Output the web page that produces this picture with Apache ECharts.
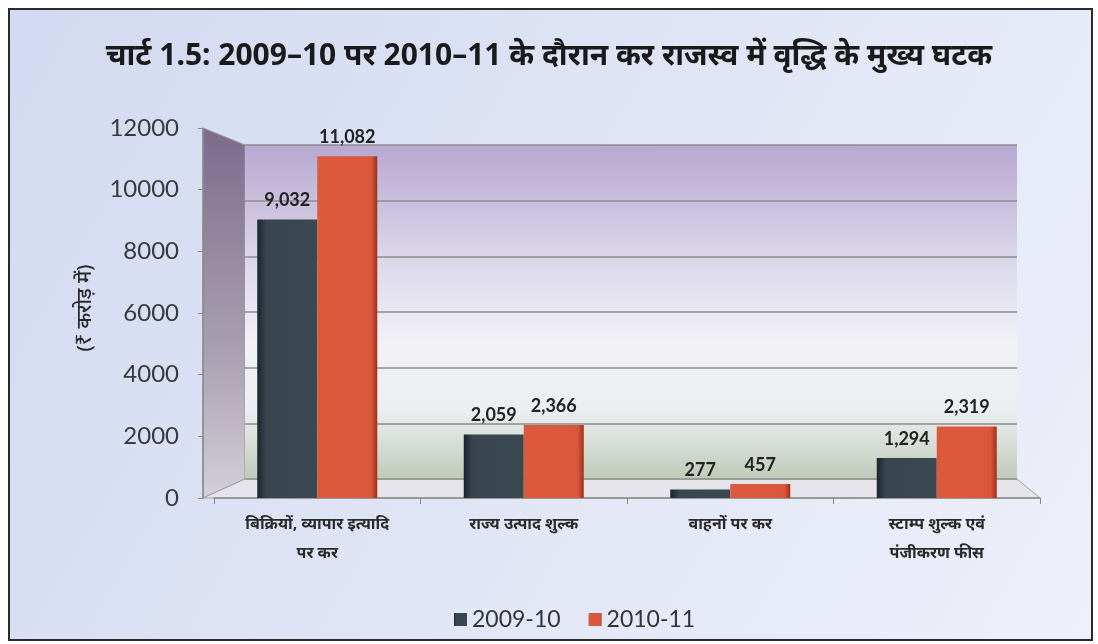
<!DOCTYPE html>
<html><head><meta charset="utf-8">
<script src="https://cdn.jsdelivr.net/npm/echarts@6/dist/echarts.min.js"></script>
<style>html,body{margin:0;padding:0;background:#fff}#c{width:1098px;height:644px}</style>
</head><body><div id="c"></div>
<script>
const titleText = 'चार्ट 1.5: 2009–10 पर 2010–11 के दौरान कर राजस्व में वृद्धि के मुख्य घटक';
const yAxisName = '(₹ करोड़ में)';
const categories = ['बिक्रियों, व्यापार इत्यादि\nपर कर', 'राज्य उत्पाद शुल्क', 'वाहनों पर कर', 'स्टाम्प शुल्क एवं\nपंजीकरण फीस'];
const seriesNames = ['2009-10', '2010-11'];
const values2009 = [9032, 2059, 277, 1294];
const values2010 = [11082, 2366, 457, 2319];
const yTicks = [0, 2000, 4000, 6000, 8000, 10000, 12000];

const font = '"Noto Sans", "DejaVu Sans", sans-serif';
const numFont = 'Lato, "Open Sans", sans-serif';
const chart = echarts.init(document.getElementById('c'), null, {renderer: 'canvas'});
const fmt = v => v.value.toLocaleString('en-US');

chart.setOption({
  backgroundColor: '#ffffff',
  animation: false,
  graphic: [
    {type: 'rect', z: -10, shape: {x: 9, y: 9, width: 1083, height: 631},
     style: {stroke: '#2a2a2a', lineWidth: 2,
       fill: {type: 'linear', x: 0, y: 0, x2: 1, y2: 1, colorStops: [{offset: 0, color: '#d2daf1'}, {offset: 1, color: '#eef0fa'}]}}},
    {type: 'polygon', z: -5, shape: {points: [[203, 128], [245, 145], [245, 479], [203, 498]]},
     style: {fill: {type: 'linear', x: 0, y: 0, x2: 0, y2: 1, colorStops: [{offset: 0, color: '#7d6a8c'}, {offset: 0.6, color: '#a99fb1'}, {offset: 1, color: '#d4d0d6'}]}, stroke: '#9a94a0', lineWidth: 1}},
    {type: 'polygon', z: -5, shape: {points: [[203, 498], [245, 479], [1017, 479], [1040, 498]]},
     style: {fill: '#e4e4ea', stroke: '#a0a0a8', lineWidth: 1}}
  ],
  title: {
    text: titleText, left: 'center', top: 36,
    textStyle: {fontFamily: font, fontSize: 30, fontWeight: 'bold', color: '#1a1a1a'}
  },
  legend: {
    data: seriesNames, bottom: 8, left: 449, itemWidth: 13, itemHeight: 13, itemGap: 28,
    icon: 'rect',
    textStyle: {fontFamily: numFont, fontSize: 23, color: '#333'}
  },
  grid: [
    {left: 245, right: 81, top: 145, bottom: 165, show: true, borderWidth: 0, z: -4,
     backgroundColor: {type: 'linear', x: 0, y: 0, x2: 0, y2: 1, colorStops: [
       {offset: 0, color: '#b7a8d0'}, {offset: 0.35, color: '#dcd8ec'}, {offset: 0.6, color: '#f2f2f6'},
       {offset: 0.8, color: '#ebeef0'}, {offset: 1, color: '#bfcab8'}]}},
    {left: 214, right: 58, top: 128, bottom: 146}
  ],
  xAxis: [
    {gridIndex: 0, type: 'category', data: categories, show: false},
    {gridIndex: 1, type: 'category', data: categories,
     axisLine: {lineStyle: {color: '#8a8a8a', width: 1.5}},
     axisTick: {show: true, length: 6, lineStyle: {color: '#8a8a8a'}},
     axisLabel: {fontFamily: font, fontSize: 16, fontWeight: 'bold', color: '#2a2a2a', margin: 12, lineHeight: 29}}
  ],
  yAxis: [
    {gridIndex: 0, type: 'value', min: 0, max: 12000, interval: 2000,
     axisLabel: {show: false}, axisLine: {show: false}, axisTick: {show: false},
     splitLine: {lineStyle: {color: '#8c8c8c', width: 1.5}}},
    {gridIndex: 1, type: 'value', min: yTicks[0], max: yTicks[yTicks.length - 1], interval: 2000,
     offset: 11,
     name: yAxisName, nameLocation: 'middle', nameGap: 108, nameRotate: 90,
     nameTextStyle: {fontFamily: font, fontSize: 20, fontWeight: 500, color: '#2a2a2a', padding: [0, 0, 0, 10]},
     axisLine: {show: true, lineStyle: {color: '#8a8a8a', width: 1.5}},
     axisTick: {show: true, length: 5, lineStyle: {color: '#8a8a8a'}},
     splitLine: {show: false},
     axisLabel: {fontFamily: numFont, fontSize: 24, color: '#3a3a3a', margin: 24, formatter: v => String(v)}}
  ],
  series: [
    {name: seriesNames[0], type: 'bar', xAxisIndex: 1, yAxisIndex: 1, data: values2009,
     barWidth: 60, barGap: '0%',
     itemStyle: {color: {type: 'linear', x: 0, y: 0, x2: 1, y2: 0, colorStops: [{offset: 0, color: '#1c242c'}, {offset: 0.15, color: '#38454f'}, {offset: 1, color: '#3a4852'}]}},
     label: {show: true, position: 'top', formatter: fmt, fontFamily: numFont, fontSize: 18, fontWeight: 'bold', color: '#222', distance: 10}},
    {name: seriesNames[1], type: 'bar', xAxisIndex: 1, yAxisIndex: 1, data: values2010,
     barWidth: 60,
     itemStyle: {color: {type: 'linear', x: 0, y: 0, x2: 1, y2: 0, colorStops: [{offset: 0, color: '#db5a3c'}, {offset: 0.9, color: '#d9573a'}, {offset: 1, color: '#9e2e18'}]}},
     label: {show: true, position: 'top', formatter: fmt, fontFamily: numFont, fontSize: 18, fontWeight: 'bold', color: '#222', distance: 10}}
  ]
});
</script></body></html>
